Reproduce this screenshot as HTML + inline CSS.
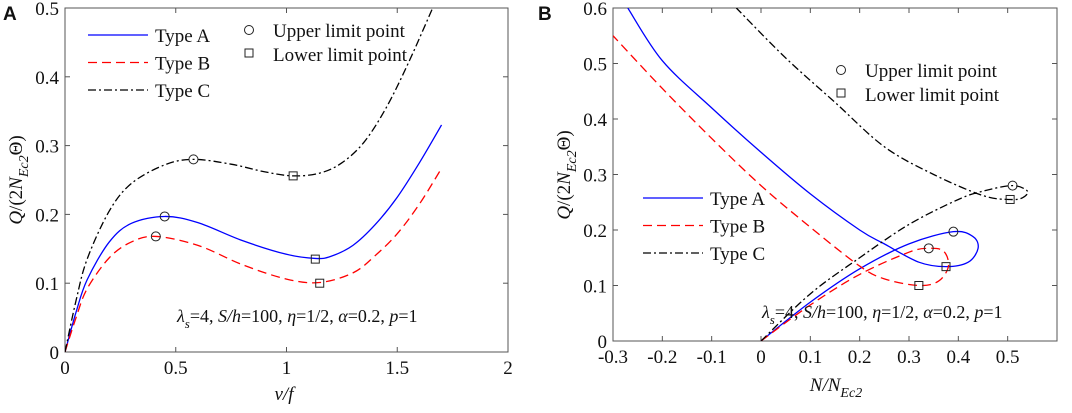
<!DOCTYPE html>
<html><head><meta charset="utf-8"><style>
body{margin:0;background:#fff;width:1072px;height:408px;overflow:hidden}
text{font-family:"Liberation Serif",serif;fill:#111}
</style></head><body>
<svg id="svg" width="1072" height="408" font-family="Liberation Serif, serif" xmlns="http://www.w3.org/2000/svg"></svg>
<script>
// ---- data panel A (v/f, Q) ----
const aTypeA=[[0,0],[0.05,0.058],[0.1,0.105],[0.2,0.16],[0.3,0.187],[0.45,0.197],[0.6,0.188],[0.8,0.162],[1.0,0.142],[1.13,0.136],[1.2,0.139],[1.3,0.155],[1.4,0.185],[1.5,0.225],[1.6,0.275],[1.7,0.33]];
const aTypeB=[[0,0],[0.05,0.05],[0.1,0.092],[0.2,0.137],[0.3,0.16],[0.41,0.168],[0.6,0.155],[0.8,0.127],[1.0,0.106],[1.15,0.101],[1.3,0.115],[1.4,0.14],[1.5,0.172],[1.6,0.215],[1.7,0.267]];
const aTypeC=[[0,0],[0.05,0.075],[0.1,0.135],[0.2,0.205],[0.3,0.245],[0.45,0.272],[0.58,0.28],[0.75,0.273],[0.9,0.262],[1.03,0.256],[1.15,0.26],[1.25,0.275],[1.35,0.305],[1.45,0.355],[1.55,0.42],[1.66,0.5]];
const aUpper=[[0.45,0.197],[0.41,0.168],[0.58,0.28]];
const aLower=[[1.13,0.135],[1.15,0.1],[1.03,0.256]];
const aXTicks=[0,0.5,1,1.5,2];
const aYTicks=[0,0.1,0.2,0.3,0.4,0.5];
// ---- data panel B (N/NEc2, Q) ----
const bTypeA=[[0,0],[0.1,0.07],[0.2,0.13],[0.3,0.175],[0.39,0.197],[0.43,0.188],[0.44,0.167],[0.42,0.142],[0.375,0.134],[0.32,0.142],[0.25,0.175],[0.2,0.2],[0.1,0.265],[0,0.34],[-0.1,0.42],[-0.2,0.505],[-0.27,0.6]];
const bTypeB=[[0,0],[0.1,0.065],[0.2,0.12],[0.3,0.16],[0.34,0.167],[0.37,0.162],[0.38,0.135],[0.36,0.108],[0.32,0.1],[0.25,0.112],[0.2,0.135],[0.1,0.205],[0,0.28],[-0.1,0.365],[-0.2,0.455],[-0.3,0.55]];
const bTypeC=[[0,0],[0.1,0.085],[0.2,0.15],[0.3,0.21],[0.4,0.255],[0.45,0.27],[0.51,0.28],[0.54,0.27],[0.53,0.258],[0.505,0.255],[0.45,0.262],[0.35,0.3],[0.25,0.35],[0.15,0.43],[0.05,0.51],[-0.05,0.6]];
const bUpper=[[0.39,0.197],[0.34,0.167],[0.51,0.28]];
const bLower=[[0.375,0.134],[0.32,0.1],[0.505,0.255]];
const bXTicks=[-0.3,-0.2,-0.1,0,0.1,0.2,0.3,0.4,0.5];
const bYTicks=[0,0.1,0.2,0.3,0.4,0.5,0.6];

const NS="http://www.w3.org/2000/svg",svg=document.getElementById('svg');
function el(t,a,p){const e=document.createElementNS(NS,t);for(const k in a)e.setAttribute(k,a[k]);(p||svg).appendChild(e);return e;}
function smooth(pts){let d='M'+pts[0][0]+','+pts[0][1];for(let i=0;i<pts.length-1;i++){const p0=pts[i-1]||pts[i],p1=pts[i],p2=pts[i+1],p3=pts[i+2]||p2;
d+=' C'+(p1[0]+(p2[0]-p0[0])/6)+','+(p1[1]+(p2[1]-p0[1])/6)+' '+(p2[0]-(p3[0]-p1[0])/6)+','+(p2[1]-(p3[1]-p1[1])/6)+' '+p2[0]+','+p2[1];}return d;}
const styles={A:{stroke:'#0000ff',dash:''},B:{stroke:'#ff0000',dash:'9,5'},C:{stroke:'#000',dash:'8,3,2,3'}};

function panel(o){
  const g=el('g',{});
  const X=v=>o.L+(v-o.x0)/(o.x1-o.x0)*(o.R-o.L), Y=v=>o.B-(v-o.y0)/(o.y1-o.y0)*(o.B-o.T);
  const clip='c'+o.name;const cp=el('clipPath',{id:clip},g);el('rect',{x:o.L,y:o.T,width:o.R-o.L,height:o.B-o.T},cp);
  o.xt.forEach(t=>{el('line',{x1:X(t),x2:X(t),y1:o.B,y2:o.B-5,stroke:'#555'},g);el('line',{x1:X(t),x2:X(t),y1:o.T,y2:o.T+5,stroke:'#555'},g);
    const tx=el('text',{x:X(t),y:o.B+22,'text-anchor':'middle','font-size':19},g);tx.textContent=String(t);});
  o.yt.forEach(t=>{el('line',{x1:o.L,x2:o.L+5,y1:Y(t),y2:Y(t),stroke:'#555'},g);el('line',{x1:o.R,x2:o.R-5,y1:Y(t),y2:Y(t),stroke:'#555'},g);
    const tx=el('text',{x:o.L-6,y:Y(t)+7,'text-anchor':'end','font-size':19},g);tx.textContent=String(t);});
  const fr=el('rect',{x:o.L,y:o.T,width:o.R-o.L,height:o.B-o.T,fill:'none',stroke:'#555'},g);
  [['A',o.sA],['B',o.sB],['C',o.sC]].forEach(([k,s])=>{const p=el('path',{d:smooth(s.map(q=>[X(q[0]),Y(q[1])])),fill:'none',stroke:styles[k].stroke,'stroke-width':1.3,'stroke-dasharray':styles[k].dash,'clip-path':'url(#'+clip+')'},g);
    });
  o.up.forEach(q=>{const c=el('circle',{cx:X(q[0]),cy:Y(q[1]),r:4.5,fill:'none',stroke:'#222'},g);});
  o.lo.forEach(q=>{const r=el('rect',{x:X(q[0])-4,y:Y(q[1])-4,width:8,height:8,fill:'none',stroke:'#222'},g);});
  ['A','B','C'].forEach((k,i)=>{const y=o.lg[1]+i*27.5;el('line',{x1:o.lg[0],x2:o.lg[0]+60,y1:y,y2:y,stroke:styles[k].stroke,'stroke-width':1.3,'stroke-dasharray':styles[k].dash},g);
    const t=el('text',{x:o.lg[0]+67,y:y+7,'font-size':19},g);t.textContent='Type '+k;});
  el('circle',{cx:o.mk[0],cy:o.mk[1],r:4.5,fill:'none',stroke:'#222'},g);
  el('rect',{x:o.mk[0]-4,y:o.mk[1]+19,width:8,height:8,fill:'none',stroke:'#222'},g);
  let t=el('text',{x:o.mk[0]+24,y:o.mk[1]+7,'font-size':19},g);t.textContent='Upper limit point';
  t=el('text',{x:o.mk[0]+24,y:o.mk[1]+31,'font-size':19},g);t.textContent='Lower limit point';
  t=el('text',{x:o.an[0],y:o.an[1],'font-size':18},g);
  t.innerHTML='<tspan font-style="italic">λ</tspan><tspan font-style="italic" font-size="13" dy="6">s</tspan><tspan dy="-6">=4, </tspan><tspan font-style="italic">S/h</tspan>=100, <tspan font-style="italic">η</tspan>=1/2, <tspan font-style="italic">α</tspan>=0.2, <tspan font-style="italic">p</tspan>=1';
  t=el('text',{transform:'translate('+o.yl[0]+','+o.yl[1]+') rotate(-90)','text-anchor':'middle','font-size':19},g);
  t.innerHTML='<tspan font-style="italic">Q</tspan>/(2<tspan font-style="italic">N</tspan><tspan font-style="italic" font-size="14" dy="6">Ec2</tspan><tspan dy="-6">Θ)</tspan>';
  t=el('text',{x:o.xl[0],y:o.xl[1],'text-anchor':'middle','font-size':19},g);
  t.innerHTML=o.xlab;
  t=el('text',{x:o.pl[0],y:20,'font-size':19,'font-weight':'bold','font-family':'Liberation Sans, sans-serif',style:'font-family:Liberation Sans,sans-serif'},g);t.textContent=o.plab;
}
panel({name:'panel-a',L:65,R:508,T:8,B:352,x0:0,x1:2,y0:0,y1:0.5,xt:aXTicks,yt:aYTicks,sA:aTypeA,sB:aTypeB,sC:aTypeC,up:aUpper,lo:aLower,
  lg:[88,35],mk:[249,30],an:[177,322],yl:[22,180],xl:[284,400],xlab:'<tspan font-style="italic">v/f</tspan>',pl:[3,0],plab:'A'});
panel({name:'panel-b',L:613,R:1057,T:8,B:341,x0:-0.3,x1:0.6,y0:0,y1:0.6,xt:bXTicks,yt:bYTicks,sA:bTypeA,sB:bTypeB,sC:bTypeC,up:bUpper,lo:bLower,
  lg:[643,198],mk:[841,70],an:[762,318],yl:[570,175],xl:[836,391],xlab:'<tspan font-style="italic">N/N</tspan><tspan font-style="italic" font-size="14" dy="6">Ec2</tspan>',pl:[538,0],plab:'B'});
</script>
</body></html>
